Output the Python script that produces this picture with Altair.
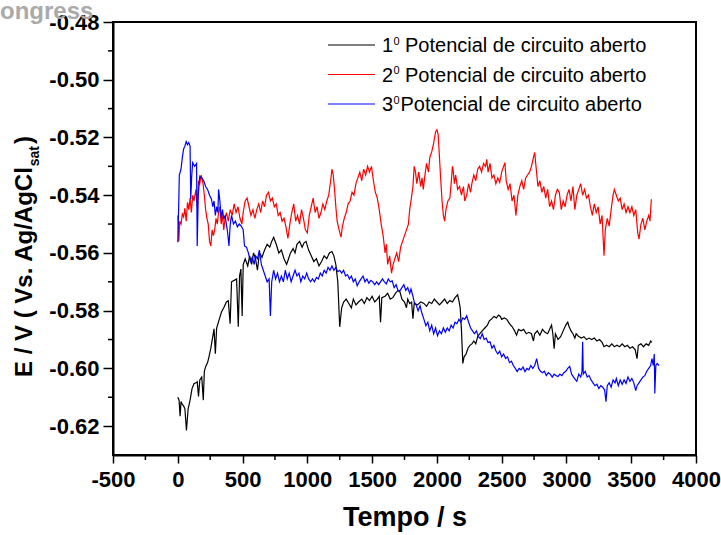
import altair as alt
import pandas as pd

FONT = "Liberation Sans"

series_names = ["1⁰ Potencial de circuito aberto",
                "2⁰ Potencial de circuito aberto",
                "3⁰Potencial de circuito aberto"]
series_colors = ["#000000", "#ff0000", "#0000ff"]
legend_digits = ["1", "2", "3"]
legend_rest = ["Potencial de circuito aberto", "Potencial de circuito aberto", "Potencial de circuito aberto"]

x_ticks = [-500, 0, 500, 1000, 1500, 2000, 2500, 3000, 3500, 4000]
x_minor = [-250, 250, 750, 1250, 1750, 2250, 2750, 3250, 3750]
y_ticks = [-0.62, -0.60, -0.58, -0.56, -0.54, -0.52, -0.50, -0.48]
y_minor = [-0.61, -0.59, -0.57, -0.55, -0.53, -0.51, -0.49]

# (tempo s, E V)
serie1 = [
    (0, -0.6100), (10, -0.6110), (18, -0.6166), (25, -0.6115), (35, -0.6125), (45, -0.6130),
    (55, -0.6140), (67, -0.6215), (80, -0.6140), (95, -0.6110), (110, -0.6070), (125, -0.6053),
    (140, -0.6050), (150, -0.6046), (160, -0.6097), (170, -0.6040), (185, -0.6030), (197, -0.6110),
    (205, -0.6010), (215, -0.5994), (230, -0.5980), (241, -0.5960), (255, -0.5930), (270, -0.5890),
    (280, -0.5863), (290, -0.5949), (300, -0.5860), (320, -0.5830), (338, -0.5804), (355, -0.5790),
    (375, -0.5770), (390, -0.5766), (404, -0.5845), (415, -0.5700), (435, -0.5695), (454, -0.5690),
    (467, -0.5856), (477, -0.5680), (487, -0.5656), (497, -0.5818), (505, -0.5640), (520, -0.5620),
    (540, -0.5645), (555, -0.5610), (570, -0.5640), (585, -0.5600), (600, -0.5620), (615, -0.5660),
    (630, -0.5600), (650, -0.5615), (670, -0.5590), (690, -0.5570), (710, -0.5580), (725, -0.5560),
    (740, -0.5546), (760, -0.5570), (780, -0.5600), (800, -0.5590), (820, -0.5620), (840, -0.5640),
    (855, -0.5620), (870, -0.5600), (890, -0.5585), (905, -0.5600), (920, -0.5570), (940, -0.5560),
    (960, -0.5580), (975, -0.5565), (990, -0.5560), (1010, -0.5590), (1030, -0.5610), (1050, -0.5630),
    (1070, -0.5620), (1090, -0.5645), (1110, -0.5630), (1130, -0.5610), (1150, -0.5620), (1170, -0.5600),
    (1190, -0.5595), (1205, -0.5610), (1220, -0.5640), (1235, -0.5700), (1250, -0.5856), (1265, -0.5790),
    (1280, -0.5770), (1300, -0.5760), (1320, -0.5775), (1340, -0.5790), (1355, -0.5760), (1375, -0.5780),
    (1395, -0.5770), (1420, -0.5760), (1440, -0.5775), (1460, -0.5755), (1480, -0.5765), (1500, -0.5750),
    (1520, -0.5770), (1540, -0.5760), (1555, -0.5750), (1565, -0.5840), (1575, -0.5755), (1600, -0.5750),
    (1620, -0.5740), (1640, -0.5760), (1660, -0.5755), (1680, -0.5740), (1700, -0.5730), (1715, -0.5735),
    (1730, -0.5760), (1750, -0.5770), (1765, -0.5790), (1775, -0.5760), (1790, -0.5775), (1805, -0.5770),
    (1815, -0.5828), (1825, -0.5775), (1850, -0.5780), (1875, -0.5770), (1900, -0.5775), (1920, -0.5785),
    (1940, -0.5770), (1960, -0.5775), (1980, -0.5760), (2000, -0.5770), (2020, -0.5780), (2040, -0.5770),
    (2060, -0.5760), (2080, -0.5775), (2100, -0.5765), (2120, -0.5770), (2140, -0.5755), (2160, -0.5745),
    (2170, -0.5765), (2180, -0.5790), (2190, -0.5870), (2200, -0.5983), (2210, -0.5960), (2225, -0.5950),
    (2240, -0.5930), (2255, -0.5920), (2270, -0.5915), (2285, -0.5905), (2300, -0.5915), (2315, -0.5890),
    (2330, -0.5880), (2350, -0.5870), (2370, -0.5860), (2390, -0.5850), (2405, -0.5835), (2420, -0.5830),
    (2440, -0.5820), (2460, -0.5825), (2475, -0.5815), (2490, -0.5820), (2500, -0.5830), (2520, -0.5825),
    (2540, -0.5830), (2560, -0.5845), (2580, -0.5855), (2600, -0.5870), (2615, -0.5885), (2630, -0.5865),
    (2650, -0.5870), (2670, -0.5865), (2690, -0.5880), (2710, -0.5875), (2730, -0.5880), (2745, -0.5905),
    (2755, -0.5880), (2775, -0.5870), (2795, -0.5885), (2815, -0.5865), (2835, -0.5875), (2855, -0.5880),
    (2875, -0.5860), (2885, -0.5850), (2895, -0.5880), (2905, -0.5932), (2915, -0.5880), (2935, -0.5900),
    (2955, -0.5890), (2975, -0.5870), (2995, -0.5850), (3010, -0.5840), (3020, -0.5855), (3035, -0.5870),
    (3050, -0.5880), (3065, -0.5895), (3075, -0.5880), (3095, -0.5890), (3115, -0.5895), (3135, -0.5890),
    (3155, -0.5900), (3175, -0.5895), (3195, -0.5900), (3215, -0.5895), (3235, -0.5905), (3255, -0.5900),
    (3275, -0.5910), (3290, -0.5925), (3310, -0.5920), (3330, -0.5925), (3350, -0.5915), (3370, -0.5925),
    (3390, -0.5920), (3410, -0.5925), (3430, -0.5915), (3450, -0.5925), (3470, -0.5920), (3490, -0.5930),
    (3510, -0.5925), (3530, -0.5935), (3545, -0.5966), (3555, -0.5920), (3575, -0.5915), (3595, -0.5925),
    (3615, -0.5915), (3635, -0.5920), (3650, -0.5905), (3660, -0.5910),
]

serie2 = [
    (0, -0.5470), (8, -0.5560), (15, -0.5490), (25, -0.5500), (35, -0.5465), (45, -0.5475),
    (55, -0.5445), (65, -0.5490), (75, -0.5425), (85, -0.5450), (95, -0.5410), (105, -0.5460),
    (115, -0.5400), (125, -0.5420), (140, -0.5380), (150, -0.5440), (160, -0.5350), (170, -0.5360),
    (180, -0.5330), (195, -0.5360), (205, -0.5400), (215, -0.5450), (225, -0.5480), (235, -0.5500),
    (245, -0.5560), (255, -0.5576), (265, -0.5520), (275, -0.5540), (285, -0.5520), (295, -0.5480),
    (305, -0.5500), (315, -0.5460), (325, -0.5440), (335, -0.5500), (345, -0.5470), (355, -0.5520),
    (365, -0.5480), (375, -0.5460), (390, -0.5490), (405, -0.5450), (420, -0.5470), (435, -0.5430),
    (450, -0.5460), (465, -0.5440), (480, -0.5480), (495, -0.5500), (505, -0.5460), (520, -0.5420),
    (535, -0.5410), (550, -0.5440), (565, -0.5470), (580, -0.5450), (595, -0.5480), (610, -0.5450),
    (625, -0.5430), (640, -0.5460), (655, -0.5420), (670, -0.5440), (685, -0.5400), (700, -0.5390),
    (715, -0.5420), (730, -0.5410), (745, -0.5440), (760, -0.5430), (775, -0.5470), (790, -0.5460),
    (805, -0.5490), (820, -0.5480), (835, -0.5510), (850, -0.5550), (865, -0.5500), (880, -0.5460),
    (895, -0.5430), (910, -0.5490), (925, -0.5470), (940, -0.5500), (955, -0.5450), (970, -0.5480),
    (985, -0.5520), (1000, -0.5530), (1015, -0.5470), (1030, -0.5440), (1045, -0.5410), (1060, -0.5460),
    (1075, -0.5440), (1090, -0.5480), (1105, -0.5460), (1120, -0.5430), (1135, -0.5450), (1150, -0.5420),
    (1165, -0.5400), (1180, -0.5350), (1190, -0.5310), (1200, -0.5330), (1210, -0.5380), (1220, -0.5440),
    (1230, -0.5490), (1245, -0.5520), (1260, -0.5545), (1270, -0.5510), (1285, -0.5480), (1300, -0.5460),
    (1315, -0.5430), (1330, -0.5420), (1345, -0.5390), (1360, -0.5400), (1375, -0.5360), (1390, -0.5340),
    (1405, -0.5320), (1420, -0.5350), (1435, -0.5310), (1450, -0.5330), (1465, -0.5300), (1480, -0.5320),
    (1495, -0.5300), (1510, -0.5350), (1525, -0.5390), (1540, -0.5410), (1555, -0.5450), (1570, -0.5500),
    (1585, -0.5540), (1600, -0.5600), (1610, -0.5570), (1620, -0.5640), (1635, -0.5610), (1650, -0.5670),
    (1660, -0.5645), (1675, -0.5620), (1690, -0.5600), (1705, -0.5630), (1720, -0.5580), (1735, -0.5560),
    (1750, -0.5540), (1765, -0.5520), (1780, -0.5500), (1790, -0.5450), (1800, -0.5420), (1815, -0.5370),
    (1825, -0.5300), (1835, -0.5320), (1845, -0.5360), (1860, -0.5320), (1875, -0.5370), (1885, -0.5340),
    (1895, -0.5380), (1905, -0.5340), (1920, -0.5290), (1935, -0.5320), (1945, -0.5270), (1960, -0.5250),
    (1975, -0.5220), (1990, -0.5180), (2000, -0.5173), (2010, -0.5190), (2020, -0.5270), (2030, -0.5350),
    (2040, -0.5420), (2050, -0.5470), (2060, -0.5490), (2070, -0.5450), (2085, -0.5420), (2100, -0.5410),
    (2110, -0.5360), (2120, -0.5300), (2125, -0.5310), (2135, -0.5360), (2145, -0.5330), (2160, -0.5380),
    (2175, -0.5370), (2190, -0.5400), (2205, -0.5370), (2215, -0.5420), (2230, -0.5400), (2245, -0.5360),
    (2260, -0.5390), (2270, -0.5360), (2285, -0.5330), (2300, -0.5350), (2315, -0.5310), (2330, -0.5300),
    (2345, -0.5320), (2360, -0.5290), (2375, -0.5300), (2385, -0.5276), (2395, -0.5320), (2410, -0.5290),
    (2425, -0.5340), (2440, -0.5330), (2455, -0.5360), (2470, -0.5340), (2485, -0.5356), (2500, -0.5320),
    (2515, -0.5300), (2525, -0.5287), (2535, -0.5350), (2550, -0.5380), (2565, -0.5360), (2580, -0.5420),
    (2595, -0.5400), (2610, -0.5470), (2625, -0.5400), (2640, -0.5370), (2655, -0.5350), (2670, -0.5380),
    (2685, -0.5340), (2700, -0.5330), (2715, -0.5320), (2730, -0.5300), (2745, -0.5270), (2755, -0.5252),
    (2765, -0.5300), (2780, -0.5370), (2795, -0.5350), (2810, -0.5390), (2825, -0.5370), (2840, -0.5410),
    (2855, -0.5380), (2870, -0.5440), (2885, -0.5420), (2900, -0.5450), (2915, -0.5400), (2930, -0.5380),
    (2945, -0.5390), (2960, -0.5450), (2975, -0.5420), (2990, -0.5440), (3005, -0.5400), (3020, -0.5380),
    (3035, -0.5420), (3050, -0.5370), (3065, -0.5450), (3080, -0.5400), (3095, -0.5380), (3110, -0.5360),
    (3125, -0.5400), (3140, -0.5380), (3155, -0.5410), (3170, -0.5400), (3185, -0.5440), (3200, -0.5470),
    (3215, -0.5430), (3230, -0.5460), (3245, -0.5440), (3260, -0.5500), (3275, -0.5470), (3290, -0.5610),
    (3300, -0.5520), (3315, -0.5480), (3330, -0.5507), (3345, -0.5450), (3360, -0.5400), (3370, -0.5380),
    (3385, -0.5400), (3400, -0.5420), (3415, -0.5410), (3430, -0.5450), (3445, -0.5430), (3460, -0.5460),
    (3475, -0.5440), (3490, -0.5460), (3505, -0.5440), (3520, -0.5470), (3535, -0.5450), (3550, -0.5530),
    (3560, -0.5552), (3575, -0.5500), (3590, -0.5480), (3605, -0.5520), (3620, -0.5490), (3635, -0.5470),
    (3645, -0.5490), (3655, -0.5414),
]

serie3 = [
    (0, -0.5563), (5, -0.5480), (12, -0.5330), (25, -0.5310), (35, -0.5270), (45, -0.5240),
    (55, -0.5230), (65, -0.5214), (75, -0.5225), (85, -0.5218), (95, -0.5230), (100, -0.5414),
    (108, -0.5330), (115, -0.5287), (130, -0.5300), (145, -0.5290), (150, -0.5576), (158, -0.5400),
    (170, -0.5334), (185, -0.5340), (200, -0.5350), (215, -0.5370), (230, -0.5380), (245, -0.5400),
    (260, -0.5414), (270, -0.5440), (280, -0.5420), (290, -0.5470), (300, -0.5440), (310, -0.5460),
    (315, -0.5380), (325, -0.5420), (335, -0.5480), (345, -0.5450), (355, -0.5483), (365, -0.5470),
    (375, -0.5500), (385, -0.5530), (395, -0.5576), (405, -0.5500), (415, -0.5470), (430, -0.5500),
    (445, -0.5490), (460, -0.5510), (475, -0.5500), (490, -0.5507), (505, -0.5520), (515, -0.5576),
    (530, -0.5580), (545, -0.5600), (560, -0.5630), (575, -0.5615), (590, -0.5640), (600, -0.5610),
    (615, -0.5620), (630, -0.5590), (645, -0.5640), (660, -0.5660), (675, -0.5680), (690, -0.5700),
    (705, -0.5690), (715, -0.5818), (725, -0.5700), (740, -0.5660), (755, -0.5690), (770, -0.5670),
    (785, -0.5700), (800, -0.5680), (815, -0.5700), (830, -0.5660), (845, -0.5690), (860, -0.5670),
    (875, -0.5700), (890, -0.5680), (905, -0.5660), (920, -0.5680), (935, -0.5670), (950, -0.5700),
    (965, -0.5680), (980, -0.5690), (995, -0.5670), (1010, -0.5690), (1025, -0.5700), (1040, -0.5690),
    (1055, -0.5700), (1070, -0.5685), (1085, -0.5690), (1100, -0.5670), (1115, -0.5680), (1130, -0.5660),
    (1145, -0.5670), (1160, -0.5650), (1175, -0.5660), (1190, -0.5645), (1205, -0.5660), (1220, -0.5650),
    (1235, -0.5665), (1250, -0.5660), (1265, -0.5670), (1280, -0.5660), (1295, -0.5680), (1310, -0.5675),
    (1325, -0.5690), (1340, -0.5680), (1355, -0.5700), (1370, -0.5690), (1385, -0.5714), (1400, -0.5700),
    (1415, -0.5690), (1430, -0.5680), (1445, -0.5700), (1460, -0.5690), (1475, -0.5705), (1490, -0.5695),
    (1505, -0.5700), (1520, -0.5710), (1535, -0.5700), (1550, -0.5710), (1565, -0.5700), (1580, -0.5690),
    (1595, -0.5700), (1610, -0.5707), (1625, -0.5690), (1640, -0.5700), (1655, -0.5697), (1670, -0.5720),
    (1685, -0.5710), (1700, -0.5730), (1715, -0.5731), (1730, -0.5720), (1745, -0.5710), (1760, -0.5730),
    (1775, -0.5720), (1790, -0.5740), (1800, -0.5725), (1815, -0.5750), (1825, -0.5770), (1840, -0.5780),
    (1855, -0.5800), (1870, -0.5783), (1885, -0.5810), (1900, -0.5830), (1915, -0.5852), (1930, -0.5840),
    (1945, -0.5870), (1960, -0.5850), (1975, -0.5880), (1990, -0.5860), (2005, -0.5887), (2020, -0.5870),
    (2035, -0.5880), (2050, -0.5860), (2065, -0.5875), (2080, -0.5860), (2095, -0.5870), (2110, -0.5850),
    (2125, -0.5860), (2140, -0.5840), (2155, -0.5845), (2170, -0.5830), (2185, -0.5840), (2200, -0.5825),
    (2215, -0.5830), (2230, -0.5818), (2245, -0.5840), (2260, -0.5860), (2275, -0.5870), (2290, -0.5880),
    (2305, -0.5870), (2320, -0.5890), (2335, -0.5897), (2350, -0.5880), (2365, -0.5900), (2380, -0.5895),
    (2395, -0.5910), (2410, -0.5908), (2425, -0.5930), (2440, -0.5920), (2455, -0.5939), (2470, -0.5950),
    (2485, -0.5940), (2500, -0.5960), (2515, -0.5950), (2530, -0.5966), (2545, -0.5960), (2560, -0.5980),
    (2575, -0.5975), (2590, -0.5990), (2605, -0.6000), (2620, -0.6011), (2635, -0.6000), (2650, -0.6005),
    (2665, -0.5995), (2680, -0.6011), (2695, -0.6000), (2710, -0.6005), (2725, -0.5990), (2740, -0.6000),
    (2755, -0.5990), (2770, -0.5966), (2785, -0.6000), (2800, -0.6010), (2815, -0.6015), (2830, -0.6010),
    (2845, -0.6025), (2860, -0.6015), (2875, -0.6020), (2890, -0.6030), (2905, -0.6020), (2920, -0.6025),
    (2935, -0.6028), (2950, -0.6020), (2965, -0.6025), (2980, -0.6015), (2995, -0.6010), (3010, -0.6000),
    (3025, -0.5993), (3040, -0.6020), (3055, -0.6030), (3070, -0.6040), (3080, -0.6045), (3095, -0.6020),
    (3110, -0.6030), (3120, -0.6010), (3125, -0.5908), (3130, -0.6020), (3145, -0.6010), (3160, -0.6030),
    (3175, -0.6025), (3190, -0.6040), (3205, -0.6050), (3220, -0.6060), (3235, -0.6055), (3250, -0.6070),
    (3265, -0.6060), (3280, -0.6065), (3295, -0.6075), (3305, -0.6115), (3315, -0.6060), (3330, -0.6050),
    (3345, -0.6065), (3360, -0.6040), (3375, -0.6050), (3385, -0.6035), (3400, -0.6060), (3415, -0.6040),
    (3430, -0.6055), (3445, -0.6040), (3460, -0.6052), (3475, -0.6030), (3490, -0.6045), (3505, -0.6035),
    (3520, -0.6050), (3535, -0.6077), (3545, -0.6060), (3560, -0.6050), (3575, -0.6040), (3590, -0.6030),
    (3605, -0.6025), (3620, -0.6010), (3635, -0.6000), (3650, -0.5990), (3660, -0.5966), (3670, -0.5990),
    (3678, -0.5950), (3682, -0.6087), (3690, -0.5990), (3700, -0.5983), (3715, -0.5990),
]

W, H = 583, 433
xscale = alt.Scale(domain=[-500, 4000], nice=False, zero=False)
yscale = alt.Scale(domain=[-0.63, -0.48], nice=False, zero=False)

x_axis = alt.Axis(values=x_ticks, tickSize=8, tickWidth=1.5, tickColor="black",
                  labelFont=FONT, labelFontSize=22, labelFontWeight="bold", labelColor="black",
                  labelPadding=6, labelOverlap=False, labelFlush=False, labelBound=False,
                  domainWidth=2, domainColor="black",
                  grid=False, title="Tempo / s", titleFont=FONT, titleFontSize=27,
                  titleFontWeight="bold", titleColor="black", titlePadding=14,
                  labelExpr="(datum.value < 0 ? '-' : '') + format(abs(datum.value), 'd')")
y_axis = alt.Axis(values=y_ticks, tickSize=10, tickWidth=1.5, tickColor="black",
                  labelFont=FONT, labelFontSize=22, labelFontWeight="bold", labelColor="black",
                  labelPadding=4, labelOverlap=False, labelFlush=False, labelBound=False,
                  domainWidth=2, domainColor="black",
                  grid=False, title=None,
                  labelExpr="(datum.value < 0 ? '-' : '') + format(abs(datum.value), '.2f')")

layers = []
for i, (name, pts) in enumerate(zip(series_names, [serie1, serie2, serie3])):
    df = pd.DataFrame(pts, columns=["t", "E"])
    df["serie"] = name
    layers.append(
        alt.Chart(df).mark_line(color=series_colors[i], strokeWidth=1.2, clip=True)
        .encode(x=alt.X("t:Q", scale=xscale, axis=x_axis),
                y=alt.Y("E:Q", scale=yscale, axis=y_axis),
                order="t:Q")
    )

# minor ticks
layers.append(
    alt.Chart(pd.DataFrame({"t": x_minor})).mark_rule(color="black", strokeWidth=1.5)
    .encode(x=alt.X("t:Q", scale=xscale, axis=x_axis), y=alt.value(H), y2=alt.value(H + 5))
)
layers.append(
    alt.Chart(pd.DataFrame({"v": y_minor})).mark_rule(color="black", strokeWidth=1.5)
    .encode(y=alt.Y("v:Q", scale=yscale, axis=y_axis), x=alt.value(-5), x2=alt.value(0))
)


def txt(s, x, y, size, weight="normal", angle=0, color="black", align="left", baseline="alphabetic", font=FONT):
    kw = dict(font=font, fontSize=size, fontWeight=weight, color=color, align=align, baseline=baseline)
    if angle:
        kw["angle"] = angle
    return alt.Chart(pd.DataFrame({"s": [s]})).mark_text(**kw).encode(
        x=alt.value(x), y=alt.value(y), text="s:N")


# legend
for i in range(3):
    ly = 23 + 29.5 * i
    layers.append(
        alt.Chart(pd.DataFrame({"s": [series_names[i]]})).mark_rule(color=series_colors[i], strokeWidth=1.2)
        .encode(x=alt.value(215), x2=alt.value(262), y=alt.value(ly))
    )
    layers.append(txt(legend_digits[i], 269, ly + 7, 20))
    layers.append(txt("0", 280.5, ly - 0.5, 11))
    rest_x = 292 if i < 2 else 287.5
    layers.append(txt(legend_rest[i], rest_x, ly + 7, 20))

# y axis title with subscript
y_main = "E / V ( Vs. Ag/AgCl"
layers.append(txt(y_main, -81, 355, 24, weight="bold", angle=270))
main_len = 8.78 * 24
layers.append(txt("sat", -74, 355 - main_len, 14, weight="bold", angle=270))
sub_len = 1.445 * 14
layers.append(txt(")", -81, 355 - main_len - sub_len - 2, 24, weight="bold", angle=270))

# watermark fragment
layers.append(txt("ongress", -113, -3, 24, color="#aaaaaa", weight="bold"))

chart = alt.layer(*layers).properties(
    width=W, height=H,
    autosize=alt.AutoSizeParams(type="none"),
    padding={"left": 113, "top": 22, "right": 25, "bottom": 80},
    background="white",
).configure_view(stroke="black", strokeWidth=2)

chart.save("out.html", embed_options={"renderer": "svg", "actions": False})
